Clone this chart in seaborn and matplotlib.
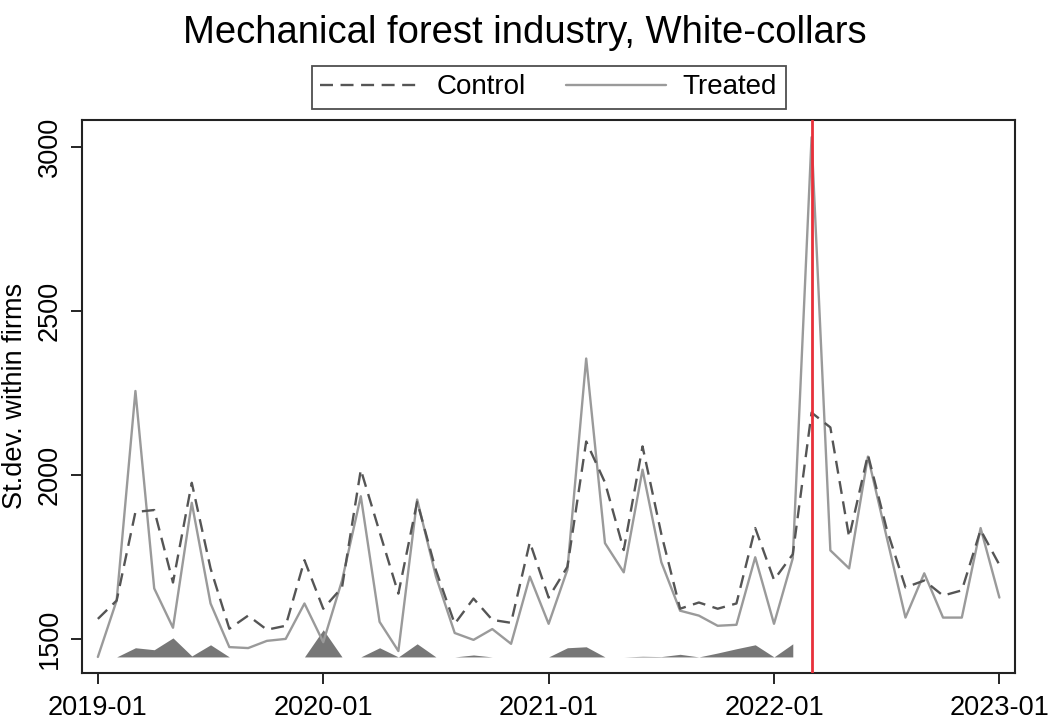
import numpy as np
import pandas as pd
import seaborn as sns
import matplotlib.pyplot as plt
from matplotlib.lines import Line2D

# Monthly series, 2019-01 .. 2023-01
months = pd.date_range("2019-01-01", "2023-01-01", freq="MS").strftime("%Y-%m").tolist()

control = [1561, 1617, 1887, 1893, 1672, 1976, 1715, 1531, 1571, 1528, 1540, 1740,
           1592, 1657, 2016, 1826, 1638, 1918, 1709, 1546, 1623, 1558, 1549, 1795,
           1626, 1720, 2102, 1977, 1771, 2087, 1820, 1592, 1611, 1592, 1608, 1838,
           1680, 1758, 2190, 2145, 1810, 2062, 1835, 1657, 1678, 1632, 1648, 1832,
           1726]
treated = [1445, 1617, 2256, 1654, 1534, 1915, 1608, 1475, 1472, 1494, 1500, 1608,
           1490, 1678, 1935, 1552, 1463, 1925, 1690, 1518, 1497, 1530, 1485, 1690,
           1546, 1711, 2355, 1792, 1703, 2016, 1734, 1586, 1571, 1540, 1543, 1749,
           1546, 1746, 3030, 1770, 1715, 2056, 1810, 1565, 1700, 1565, 1565, 1838,
           1626]
# shaded band above the baseline (pre-treatment months only)
shade = [0, 0, 28, 22, 58, 3, 37, 0, 0, 0, 0, 0,
         83, 0, 0, 28, 0, 40, 0, 0, 6, 0, 0, 0,
         0, 28, 31, 0, 0, 2, 1, 8, 0, 12, 25, 37,
         0, 40]
shade_base = 1445
treat_month = "2022-03"
tick_labels = ["2019-01", "2020-01", "2021-01", "2022-01", "2023-01"]

df = pd.DataFrame({"t": np.arange(len(months)), "month": months,
                   "Control": control, "Treated": treated})

sns.set_theme(style="white")
plt.rcParams["font.family"] = ["Liberation Sans", "DejaVu Sans"]
plt.rcParams["text.color"] = "black"
plt.rcParams["axes.labelcolor"] = "black"
plt.rcParams["xtick.color"] = "black"
plt.rcParams["ytick.color"] = "black"

fig = plt.figure(figsize=(10.5, 7.26), dpi=100)
ax = fig.add_axes([0.078, 0.073, 0.889, 0.762])

t_shade = df["t"][:len(shade)]
ax.fill_between(t_shade, shade_base, shade_base + np.array(shade),
                color="#777777", linewidth=0, zorder=1)

sns.lineplot(data=df, x="t", y="Control", ax=ax, color="#555555",
             linewidth=1.7, zorder=3)
ax.lines[-1].set_dashes((5.5, 3.2))
sns.lineplot(data=df, x="t", y="Treated", ax=ax, color="#9a9a9a",
             linewidth=1.7, zorder=2)

ax.axvline(months.index(treat_month), color="#e8303a", linewidth=2, zorder=4)

ax.set_xlim(-0.85, 48.85)
ax.set_ylim(1396, 3083)
ax.set_xticks([months.index(m) for m in tick_labels])
ax.set_xticklabels(tick_labels, fontsize=19.5)
ax.set_yticks([1500, 2000, 2500, 3000])
ax.set_yticklabels(["1500", "2000", "2500", "3000"], fontsize=19.5,
                   rotation=90, va="center")
ax.tick_params(axis="both", direction="out", length=8, width=1.2,
               color="black", bottom=True, left=True, pad=6)
ax.tick_params(axis="x", pad=8)
ax.set_xlabel("")
ax.set_ylabel("St.dev. within firms", fontsize=19.5, labelpad=6)
for s in ax.spines.values():
    s.set_color("#222222")
    s.set_linewidth(1.5)

handles = [Line2D([], [], color="#555555", linewidth=1.7, dashes=(5.5, 3.2)),
           Line2D([], [], color="#9a9a9a", linewidth=1.7)]
leg = ax.legend(handles, ["Control", "Treated"], ncol=2, loc="lower center",
                bbox_to_anchor=(0.5, 1.02), fontsize=20, handlelength=3.6,
                columnspacing=1.45, handletextpad=0.6, fancybox=False,
                edgecolor="#222222", borderpad=0.3, borderaxespad=0)
leg.get_frame().set_linewidth(1.3)

fig.suptitle("Mechanical forest industry, White-collars", fontsize=27.5, y=0.98)

fig.savefig("out.png", dpi=100)
